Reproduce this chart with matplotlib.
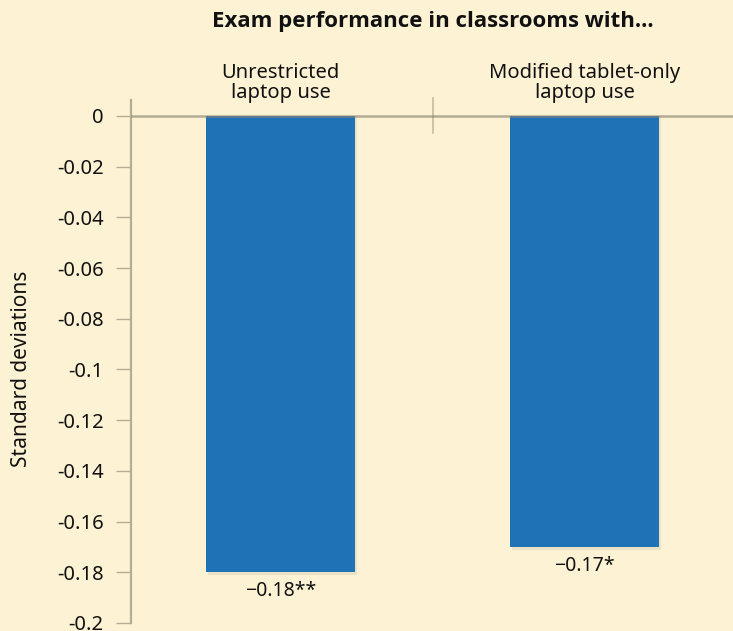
import matplotlib.pyplot as plt
import numpy as np

# data
categories = ['Unrestricted\nlaptop use', 'Modified tablet-only\nlaptop use']
values = [-0.18, -0.17]
value_labels = ['\u22120.18**', '\u22120.17*']
yticks = [0, -0.02, -0.04, -0.06, -0.08, -0.1, -0.12, -0.14, -0.16, -0.18, -0.2]
ytick_labels = ['0', '-0.02', '-0.04', '-0.06', '-0.08', '-0.1', '-0.12', '-0.14',
                '-0.16', '-0.18', '-0.2']

bg = '#fdf3d4'
bar_col = '#1e72b5'
grey = '#8c8672'

plt.rcParams['font.family'] = ['Noto Sans', 'DejaVu Sans']

fig = plt.figure(figsize=(7.33, 6.31), dpi=100, facecolor=bg)
ax = fig.add_axes([131/733, 8/631, 602/733, 523/631])
ax.set_facecolor(bg)

x = np.arange(len(values))
# soft shadow behind bars
ax.bar(x + 0.008, np.array(values) - 0.0012, width=0.49, color='#000000', alpha=0.07, zorder=1)
ax.bar(x, values, width=0.49, color=bar_col, zorder=2)

ax.set_xlim(-0.4918, 1.4885)
ax.set_ylim(-0.2, 0.0063)

for spine in ['top', 'right', 'bottom']:
    ax.spines[spine].set_visible(False)
ax.spines['left'].set_color('#b3ad98')
ax.spines['left'].set_linewidth(1.6)

ax.set_xticks([])
ax.set_yticks(yticks)
ax.set_yticklabels(ytick_labels)
ax.tick_params(axis='y', length=10.8, width=1.0, color='#b3ad98', labelsize=14.5,
               pad=9, labelcolor='#111111')

# zero line
ax.axhline(0, color=grey, alpha=0.65, lw=1.8, zorder=3)
# separator between groups
ax.plot([0.5, 0.5], [0.0071, -0.0067], color=grey, alpha=0.55, lw=1.1,
        clip_on=False, zorder=3)

for xi, v, lab in zip(x, values, value_labels):
    ax.text(xi, v - 0.0035, lab, ha='center', va='top', fontsize=14, color='#111111')

for xi, cat in zip(x, categories):
    ax.text(xi, 0.0052, cat, ha='center', va='bottom', fontsize=14.5,
            color='#111111', linespacing=1.0, clip_on=False)

fig.text(433/733, 1 - 21/631, 'Exam performance in classrooms with...', ha='center',
         va='center', fontsize=16, fontweight='bold', color='#111111',
         family=['Open Sans', 'DejaVu Sans'])

fig.text(22/733, 1 - 369/631, 'Standard deviations', rotation=90, ha='center',
         va='center', fontsize=15, color='#111111')

fig.savefig('out.png', dpi=100, facecolor=bg)
